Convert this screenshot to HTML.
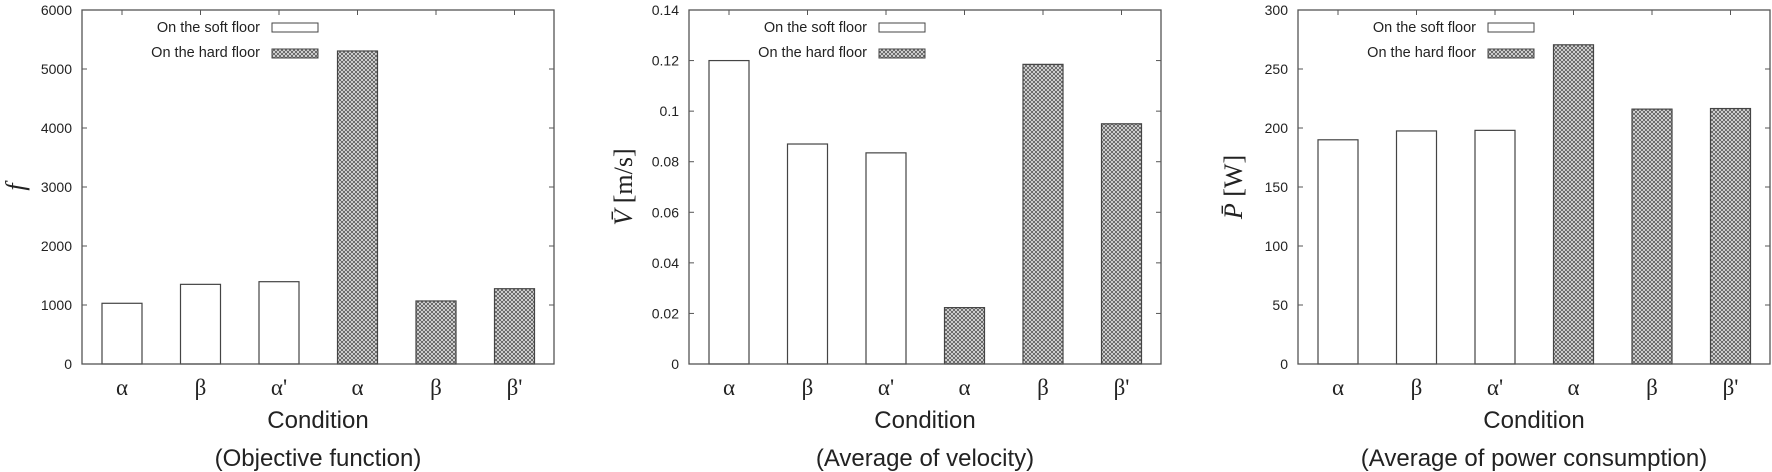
<!DOCTYPE html>
<html><head><meta charset="utf-8"><style>
html,body{margin:0;padding:0;background:#fff;width:1772px;height:472px;overflow:hidden}
svg{display:block}
text{font-family:"Liberation Sans",sans-serif;fill:#222}
.serif{font-family:"Liberation Serif",serif}
</style></head><body>
<svg id="fig" width="1772" height="472" viewBox="0 0 1772 472" xmlns="http://www.w3.org/2000/svg">
<defs>
<pattern id="hatch" width="4" height="4" patternUnits="userSpaceOnUse">
<rect width="4" height="4" fill="#e6e6e6"/>
<path d="M0,0 L4,4 M4,0 L0,4" stroke="#555" stroke-width="0.8"/>
</pattern>
</defs>
</svg>
<script>
const categories = ["α","β","α'","α","β","β'"];
const floorType = ["soft","soft","soft","hard","hard","hard"];
const fValues = [1029,1350,1395,5305,1068,1276];
const vValues = [0.120,0.087,0.0835,0.0223,0.1185,0.095];
const pValues = [190,197.5,198,270.5,216,216.5];
const fTicks = [0,1000,2000,3000,4000,5000,6000];
const vTicks = [0,0.02,0.04,0.06,0.08,0.1,0.12,0.14];
const vTickLabels = ["0","0.02","0.04","0.06","0.08","0.1","0.12","0.14"];
const pTicks = [0,50,100,150,200,250,300];

const NS="http://www.w3.org/2000/svg";
const svg=document.getElementById('fig');
function mk(tag,attrs,parent,txt){const e=document.createElementNS(NS,tag);for(const k in attrs)e.setAttribute(k,attrs[k]);if(txt!==undefined)e.textContent=txt;(parent||svg).appendChild(e);return e;}

function chart(id,left,values,ticks,tickLabels,yMax,ytitle,subtitle){
  const top=10,bottom=364,w=472;
  const g=mk('g',{});
  
  
  const y=v=>bottom-(v/yMax)*(bottom-top);
  const xc=i=>left+40+i*78.5;
  values.forEach((v,i)=>{
    const r=mk('rect',{x:xc(i)-20,y:y(v),width:40,height:bottom-y(v),fill:floorType[i]==='hard'?'url(#hatch)':'#fff',stroke:'#444','stroke-width':1.2},g);
    
    
  });
  const fr=mk('rect',{x:left,y:top,width:w,height:bottom-top,fill:'none',stroke:'#555','stroke-width':1.3},g);
  
  
  ticks.forEach((t,i)=>{
    const yy=y(t);
    mk('line',{x1:left,y1:yy,x2:left+5,y2:yy,stroke:'#555'},g);
    mk('line',{x1:left+w,y1:yy,x2:left+w-5,y2:yy,stroke:'#555'},g);
    const tl=mk('text',{x:left-10,y:yy+5,'text-anchor':'end','font-size':14},g,tickLabels[i]);
    
    
  });
  categories.forEach((c,i)=>{
    mk('line',{x1:xc(i),y1:top,x2:xc(i),y2:top+5,stroke:'#555'},g);
    const xl=mk('text',{x:xc(i),y:395,'text-anchor':'middle','font-size':23,'class':'serif'},g,c);
    
    
  });
  const xt=mk('text',{x:left+236,y:428,'text-anchor':'middle','font-size':24},g,'Condition');
  
  
  const st=mk('text',{x:left+236,y:466,'text-anchor':'middle','font-size':24},g,subtitle);
  
  
  const yt=mk('text',{transform:`translate(${ytitle.x},187) rotate(-90)`,'text-anchor':'middle','font-size':26,'class':'serif'},g);
  
  
  yt.innerHTML=ytitle.html;
  const lg=mk('g',{},g);
  
  
  const l1=mk('text',{x:left+178,y:32,'text-anchor':'end','font-size':14.5},lg,'On the soft floor');
  
  
  mk('rect',{x:left+190,y:23,width:46,height:9,fill:'#fff',stroke:'#444'},lg);
  const l2=mk('text',{x:left+178,y:57,'text-anchor':'end','font-size':14.5},lg,'On the hard floor');
  
  
  mk('rect',{x:left+190,y:49,width:46,height:9,fill:'url(#hatch)',stroke:'#444'},lg);
}
chart('objective',82,fValues,fTicks,fTicks.map(String),6000,{x:24,html:'<tspan font-style="italic">f</tspan>'},'(Objective function)');
chart('velocity',689,vValues,vTicks,vTickLabels,0.14,{x:632,html:'<tspan font-style="italic">V̄</tspan> [m/s]'},'(Average of velocity)');
chart('power',1298,pValues,pTicks,pTicks.map(String),300,{x:1242,html:'<tspan font-style="italic">P̄</tspan> [W]'},'(Average of power consumption)');
</script>
</body></html>
